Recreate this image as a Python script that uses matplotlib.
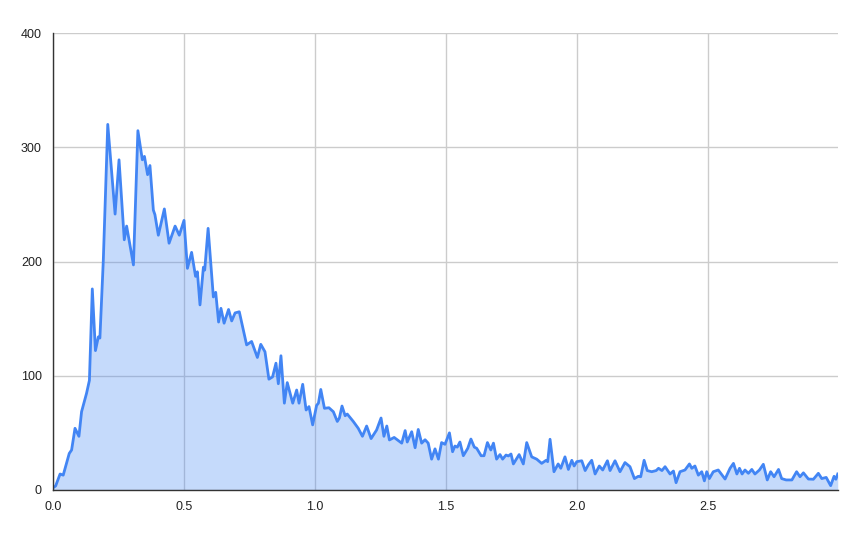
import matplotlib
matplotlib.use("Agg")
import matplotlib.pyplot as plt

x_vals = [0.0, 0.01, 0.027, 0.039, 0.062, 0.071, 0.084, 0.099, 0.109, 0.128, 0.139, 0.150, 0.162, 0.173, 0.179,
          0.192, 0.209, 0.237, 0.252, 0.272, 0.281, 0.307, 0.324, 0.341, 0.349, 0.361, 0.370, 0.383, 0.389,
          0.402, 0.425, 0.443, 0.466, 0.482, 0.500, 0.513, 0.529, 0.544, 0.551, 0.561, 0.574, 0.579, 0.592,
          0.612, 0.621, 0.632, 0.641, 0.653, 0.670, 0.682, 0.695, 0.711, 0.739, 0.758, 0.780, 0.793, 0.809,
          0.824, 0.838, 0.851, 0.860, 0.870, 0.883, 0.894, 0.915, 0.930, 0.939, 0.953, 0.966, 0.977, 0.991,
          1.006, 1.013, 1.022, 1.036, 1.053, 1.070, 1.085, 1.093, 1.103, 1.115, 1.123, 1.146, 1.165, 1.181,
          1.197, 1.214, 1.235, 1.252, 1.263, 1.274, 1.284, 1.302, 1.331, 1.344, 1.352, 1.369, 1.382, 1.394,
          1.407, 1.420, 1.432, 1.445, 1.458, 1.471, 1.483, 1.496, 1.513, 1.525, 1.534, 1.543, 1.553, 1.566,
          1.583, 1.595, 1.608, 1.617, 1.634, 1.645, 1.658, 1.671, 1.681, 1.693, 1.706, 1.716, 1.729, 1.738,
          1.748, 1.757, 1.779, 1.795, 1.808, 1.827, 1.846, 1.865, 1.882, 1.888, 1.897, 1.912, 1.928, 1.938,
          1.954, 1.967, 1.980, 1.989, 1.999, 2.018, 2.031, 2.043, 2.056, 2.069, 2.085, 2.098, 2.116, 2.126,
          2.145, 2.164, 2.183, 2.202, 2.219, 2.234, 2.243, 2.256, 2.268, 2.285, 2.302, 2.311, 2.324, 2.336,
          2.355, 2.368, 2.378, 2.393, 2.412, 2.429, 2.438, 2.450, 2.463, 2.476, 2.486, 2.495, 2.505, 2.520,
          2.539, 2.565, 2.584, 2.597, 2.610, 2.620, 2.630, 2.641, 2.654, 2.667, 2.679, 2.696, 2.711, 2.726,
          2.739, 2.752, 2.769, 2.781, 2.798, 2.820, 2.838, 2.851, 2.864, 2.883, 2.902, 2.921, 2.934, 2.951,
          2.968, 2.981, 2.988, 2.995]
y_vals = [2, 3.5, 14, 13, 32, 35, 54, 47, 68.5, 84.6, 96, 176, 122, 134, 133,
          201, 320, 241.5, 289, 219, 231, 197, 314.5, 289, 292, 276, 284, 245, 241,
          223, 246, 216, 231, 223, 236, 194, 208, 187, 191, 162, 195, 192.5, 229,
          169, 173, 147, 159, 146, 158, 148, 155, 156, 127, 130, 116, 127.5, 121,
          97, 99, 111, 93, 117.5, 76, 94, 76, 87.5, 76, 92.5, 70, 73, 57,
          74, 76, 88, 71.5, 72, 68.5, 60, 63, 73.5, 65, 66.5, 60, 54, 47,
          56, 45, 52.5, 63, 47, 56, 43.8, 46, 41, 52, 42, 51, 37, 53,
          41, 44, 41, 27, 36, 27, 41.5, 40, 50, 33.5, 38.5, 37.5, 42, 30,
          36.5, 44.6, 37.5, 36.5, 30, 30, 41.5, 35, 41, 27, 31, 27, 30.6, 29.8,
          31.5, 22.8, 31, 22.8, 41.5, 29, 27, 23.3, 26, 24.8, 44.4, 16, 22.8, 19,
          29, 18, 26, 21, 24.8, 25.6, 17, 22, 26, 14, 21, 17.5, 25.6, 17,
          25.6, 16, 24, 20.4, 10, 12, 11.6, 26, 17, 16, 17, 19, 17, 20.4,
          14, 16.6, 6.4, 16, 17.5, 22.8, 19, 21, 13, 16, 8, 16, 10, 16,
          17.5, 9.6, 19, 23.3, 14, 19, 14, 17.5, 14.6, 18, 14, 17.5, 22.5, 8.8,
          16, 11.6, 18, 10, 8.8, 8.8, 16, 11.6, 15, 9.6, 9.4, 14.6, 10, 11,
          3.8, 12, 9.4, 14]

x_ticks = [0.0, 0.5, 1.0, 1.5, 2.0, 2.5]
x_tick_labels = ["0.0", "0.5", "1.0", "1.5", "2.0", "2.5"]
y_ticks = [0, 100, 200, 300, 400]
y_tick_labels = ["0", "100", "200", "300", "400"]

plt.rcParams['font.family'] = ['Liberation Sans', 'DejaVu Sans']

fig = plt.figure(figsize=(8.67, 5.36), dpi=100)
ax = fig.add_axes([53/867, 46/536, (838-53)/867, (490-33)/536])

line_color = "#4285F4"
ax.fill_between(x_vals, y_vals, 0, color=line_color, alpha=0.3, linewidth=0)
ax.plot(x_vals, y_vals, color=line_color, linewidth=2, solid_joinstyle='round')

ax.set_xlim(0, 2.996)
ax.set_ylim(0, 400)
ax.set_xticks(x_ticks)
ax.set_xticklabels(x_tick_labels)
ax.set_yticks(y_ticks)
ax.set_yticklabels(y_tick_labels)
ax.grid(True, color="#cccccc", linewidth=1)
ax.set_axisbelow(True)
ax.tick_params(length=0, labelsize=9, colors="#222222", pad=8)
for s in ["top", "right"]:
    ax.spines[s].set_visible(False)
for s in ["left", "bottom"]:
    ax.spines[s].set_color("#333333")
    ax.spines[s].set_linewidth(1)

fig.savefig("out.png", dpi=100)
